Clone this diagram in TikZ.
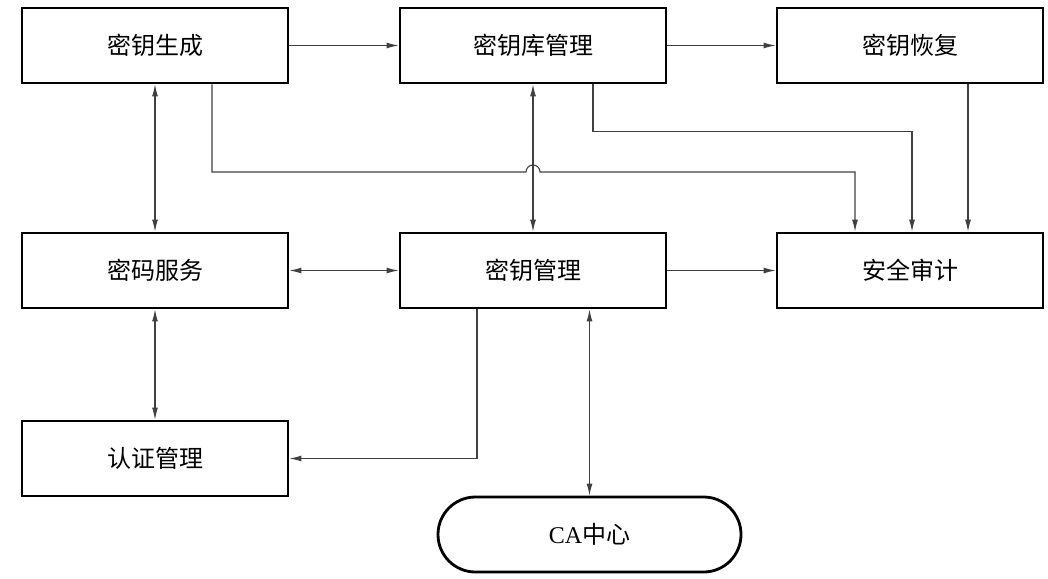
\documentclass[tikz,border=0pt]{standalone}
\usepackage{fontspec}
\setmainfont{Liberation Serif}
\newfontfamily\cjk{Noto Sans CJK SC}
\usetikzlibrary{arrows.meta,calc}

\begin{document}
\begin{tikzpicture}[x=0.5pt,y=-0.5pt,
	blk/.style={draw, line width=1.4pt, minimum width=133pt, minimum height=37.5pt, inner sep=0pt, font=\cjk\fontsize{12pt}{14pt}\selectfont},
	term/.style={blk, minimum width=151.5pt, rounded corners=18.7pt},
	conn/.style={line width=0.55pt, draw=black!75},
	>={Latex[length=6pt,width=3pt]}]
	\useasboundingbox (0,0) rectangle (1048,578);
	% top row
	\node[blk] (gen)   at (155,45.5)  {密钥生成};
	\node[blk] (lib)   at (533,45.5)  {密钥库管理};
	\node[blk] (recov) at (910,45.5)  {密钥恢复};
	% middle row
	\node[blk] (svc)   at (155,270.5) {密码服务};
	\node[blk] (mgmt)  at (533,270.5) {密钥管理};
	\node[blk] (audit) at (910,270.5) {安全审计};
	% bottom
	\node[blk] (auth)  at (155,458.5) {认证管理};
	\node[term] (ca)   at (589.5,534.5) {{\rmfamily CA}中心};
	\coordinate (hop) at (533,172);

	\draw[conn,->] (gen) -- (lib);
	\draw[conn,->] (lib) -- (recov);
	\draw[conn,<->] (gen) -- (svc);
	\draw[conn,<->] (lib) -- (mgmt);
	\draw[conn,<->] (svc) -- (mgmt);
	\draw[conn,->] (mgmt) -- (audit);
	\draw[conn,<->] (svc) -- (auth);
	% lines into the audit box
	\draw[conn,->] ($(gen.south)+(57,0)$) |- ($(hop)+(-7,0)$)
		arc[start angle=180, end angle=0, radius=3.5pt] -| ($(audit.north)+(-55,0)$);
	\draw[conn,->] ($(lib.south)+(60,0)$) -- ++(0,47) -| ($(audit.north)+(2,0)$);
	\draw[conn,->] ($(recov.south)+(58,0)$) -- ($(audit.north)+(58,0)$);
	% lines below
	\draw[conn,->] ($(mgmt.south)+(-56,0)$) |- (auth.east);
	\draw[conn,<->] (ca.north |- mgmt.south) -- (ca.north);
\end{tikzpicture}
\end{document}
